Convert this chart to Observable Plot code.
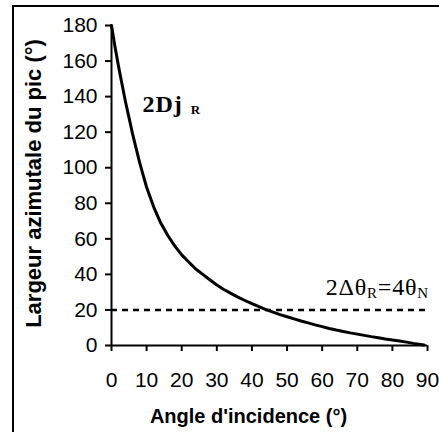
<!DOCTYPE html>
<html><head><meta charset="utf-8">
<script src="https://cdn.jsdelivr.net/npm/d3@7"></script>
<script src="https://cdn.jsdelivr.net/npm/@observablehq/plot@0.6"></script>
<style>
html,body{margin:0;padding:0;background:#fff;overflow:hidden}
#wrap{position:relative;width:439px;height:432px}
#border{position:absolute;left:12px;top:5px;width:460px;height:460px;border-left:2px solid #000;border-top:2px solid #000;pointer-events:none}
svg{display:block}
</style></head><body><div id="wrap"><div id="border"></div></div>
<script>
// Curve: angle of incidence (°) vs azimuthal peak width (°)
const curveAngle = [0,1,2,3,4,5,6,7,8,9,10,12,14,16,18,20,22,24,26,28,30,32,34,36,38,40,42,44,46,48,50,52,54,56,58,60,62,64,66,68,70,72,74,76,78,80,82,84,86,88,89];
const curveWidth = [180,168,157,147,137,128,119,111,103,96,89,78,69,62,56,51,47,43,40,37,34,31.5,29.3,27.2,25.3,23.5,21.8,20.2,18.8,17.4,16.2,15,13.8,12.7,11.6,10.6,9.6,8.7,7.9,7.1,6.4,5.7,5.0,4.4,3.7,3.1,2.5,1.9,1.2,0.6,0.3];
// Reference level 2Δθ_R = 4θ_N
const refLevel = [20];
const xDomain = [0, 90];
const yDomain = [0, 180];
const xTicks = [0,10,20,30,40,50,60,70,80,90];
const yTicks = [0,20,40,60,80,100,120,140,160,180];
const xTitle = "Angle d'incidence (°)";
const yTitle = "Largeur azimutale du pic (°)";
// Annotations: [main text, subscript, ...] and anchor in data units
const phiParts = ["2Dj", "R"];
const phiAnchor = {angle: 8.8, width: 135.5};
const thetaParts = ["2Δθ", "R", "=4θ", "N"];
const thetaAnchor = {angle: 90.4, width: 32.5};

const data = curveAngle.map((a, i) => ({angle: a, width: curveWidth[i]}));

const chart = Plot.plot({
  width: 439, height: 432,
  marginLeft: 111, marginRight: 12, marginTop: 25, marginBottom: 87,
  style: {fontFamily: "'Liberation Sans', Arial, sans-serif", fontSize: "21px", color: "#000", background: "transparent", overflow: "visible"},
  x: {domain: xDomain},
  y: {domain: yDomain},
  marks: [
    Plot.ruleY(refLevel, {x1: xDomain[0], x2: xDomain[1], stroke: "#000", strokeWidth: 2.5, strokeDasharray: "6,5"}),
    Plot.line(data, {x: "angle", y: "width", stroke: "#000", strokeWidth: 3, strokeLinejoin: "round"}),
    Plot.axisY({ticks: yTicks, tickSize: 6, tickPadding: 8, strokeWidth: 2, stroke: "#000", tickFormat: d => String(d), label: null}),
    Plot.axisX({ticks: xTicks, tickSize: 6, tickPadding: 21, strokeWidth: 2, stroke: "#000", tickFormat: d => String(d), label: null}),
    Plot.ruleX([xDomain[0]], {stroke: "#000", strokeWidth: 2}),
    Plot.ruleY([yDomain[0]], {stroke: "#000", strokeWidth: 2}),
    Plot.text([yTitle], {text: d => d, frameAnchor: "left", rotate: -90, dx: -78, dy: -2, fontWeight: "bold", fontSize: 22, textAnchor: "middle", lineAnchor: "middle", fill: "#000"}),
    Plot.text([xTitle], {text: d => d, frameAnchor: "bottom", dx: -21, dy: 71, fontWeight: "bold", fontSize: 20, textAnchor: "middle", lineAnchor: "middle", fill: "#000"}),
    Plot.text([phiAnchor], {x: "angle", y: "width", text: () => phiParts[0], textAnchor: "start", lineAnchor: "middle", fontFamily: "'Liberation Serif', 'Times New Roman', serif", fontWeight: "bold", fontSize: 24, fill: "#000"}),
    Plot.text([thetaAnchor], {x: "angle", y: "width", text: () => thetaParts[0], textAnchor: "end", lineAnchor: "middle", fontFamily: "'Liberation Serif', 'Times New Roman', serif", fontSize: 24, fill: "#000"})
  ]
});

// subscripts as tspans
chart.querySelectorAll("text").forEach(t => {
  const ns = "http://www.w3.org/2000/svg";
  if (t.textContent === phiParts[0]) {
    t.setAttribute("letter-spacing", "1");
    const s = document.createElementNS(ns, "tspan");
    s.setAttribute("font-size", "13");
    s.setAttribute("dx", "8");
    s.setAttribute("dy", "2");
    s.textContent = phiParts[1];
    t.appendChild(s);
  } else if (t.textContent === thetaParts[0]) {
    t.setAttribute("letter-spacing", "0.8");
    const mk = (txt, size, dy) => {
      const s = document.createElementNS(ns, "tspan");
      s.setAttribute("font-size", size);
      s.setAttribute("dy", dy);
      s.textContent = txt;
      t.appendChild(s);
    };
    mk(thetaParts[1], "15", "3");
    mk(thetaParts[2], "24", "-3");
    mk(thetaParts[3], "15", "3");
  }
});

document.getElementById("wrap").appendChild(chart);
</script></body></html>
